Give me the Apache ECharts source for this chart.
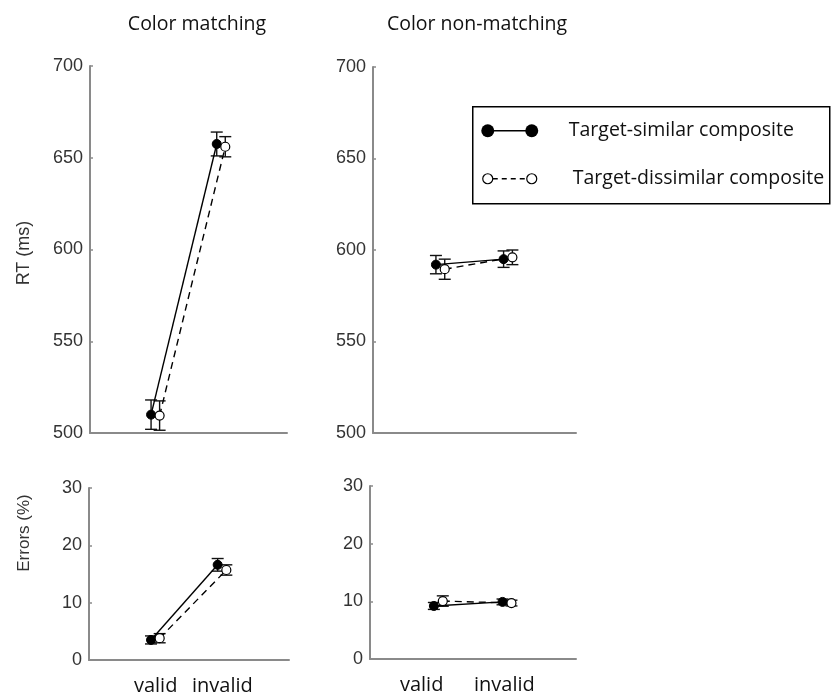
<!DOCTYPE html>
<html>
<head>
<meta charset="utf-8">
<script src="https://cdn.jsdelivr.net/npm/echarts@6/dist/echarts.min.js"></script>
<style>
  html, body { margin: 0; padding: 0; background: #fff; }
  #chart { width: 832px; height: 699px; }
</style>
</head>
<body>
<div id="chart"></div>
<script>
// Cue conditions on the x axis
const categories = ['valid', 'invalid'];
const panelTitles = ['Color matching', 'Color non-matching'];
const seriesNames = ['Target-similar composite', 'Target-dissimilar composite'];

// Reaction times (ms): means and standard errors
const rtMatchSimilar = [510, 657.5];
const rtMatchSimilarErr = [8, 6.5];
const rtMatchDissimilar = [509.5, 656];
const rtMatchDissimilarErr = [8, 5.5];
const rtNonSimilar = [592, 595];
const rtNonSimilarErr = [5, 4.5];
const rtNonDissimilar = [589.5, 596];
const rtNonDissimilarErr = [5.5, 4];

// Error rates (%): means and standard errors
const errMatchSimilar = [3.5, 16.6];
const errMatchSimilarErr = [0.7, 1.1];
const errMatchDissimilar = [3.8, 15.7];
const errMatchDissimilarErr = [0.8, 0.9];
const errNonSimilar = [9.2, 9.9];
const errNonSimilarErr = [0.6, 0.5];
const errNonDissimilar = [10.05, 9.7];
const errNonDissimilarErr = [0.9, 0.5];

// Axis tick values
const rtTicks = [500, 550, 600, 650, 700];
const errTicks = [0, 10, 20, 30];

const SIM_SHIFT = -0.07;
const DIS_SHIFT = 0.06;
const AXIS_GRAY = '#8a8a8a';
const TICK_FONT = 'Liberation Sans, Arial, sans-serif';
const TEXT_FONT = 'Open Sans, sans-serif';
const TEXT_COLOR = '#111';

const chart = echarts.init(document.getElementById('chart'));

const grids = [
  { left: 90, top: 66, width: 197, height: 367 },
  { left: 373, top: 67, width: 203, height: 366 },
  { left: 89, top: 488, width: 200, height: 172 },
  { left: 370, top: 486, width: 206, height: 173 }
];

function xAxisFor(gridIndex, showLabels, rich) {
  return {
    type: 'value', gridIndex, min: 0, max: 3, interval: 1,
    axisLine: { show: true, lineStyle: { color: AXIS_GRAY, width: 2 } },
    axisTick: { show: false },
    splitLine: { show: false },
    axisLabel: {
      show: showLabels,
      margin: 16,
      fontFamily: TEXT_FONT, fontSize: 20, color: TEXT_COLOR,
      formatter: v => {
        const name = categories[Math.round(v) - 1];
        if (!name || Math.abs(v - Math.round(v)) > 1e-6) return '';
        return rich ? '{' + (v === 1 ? 'a' : 'b') + '|' + name + '}' : name;
      },
      rich: rich || undefined
    }
  };
}

function yAxisFor(gridIndex, ticks) {
  return {
    type: 'value', gridIndex,
    min: ticks[0], max: ticks[ticks.length - 1], interval: ticks[1] - ticks[0],
    axisLine: { show: true, lineStyle: { color: AXIS_GRAY, width: 2 } },
    axisTick: { show: true, inside: true, length: 3, lineStyle: { color: AXIS_GRAY, width: 1.5 } },
    splitLine: { show: false },
    axisLabel: { fontFamily: TICK_FONT, fontSize: 18, color: '#333', margin: 7 }
  };
}

function points(values, shift) {
  return values.map((v, i) => [i + 1 + shift, v]);
}

function lineSeries(idx, values, shift, filled) {
  return {
    type: 'line', xAxisIndex: idx, yAxisIndex: idx,
    name: filled ? seriesNames[0] : seriesNames[1],
    data: points(values, shift),
    symbol: 'circle', symbolSize: 9,
    z: filled ? 3 : 4,
    clip: false,
    lineStyle: { color: '#000', width: 1.4, type: filled ? 'solid' : [7, 5] },
    itemStyle: filled
      ? { color: '#000', borderColor: '#000', borderWidth: 1 }
      : { color: '#fff', borderColor: '#000', borderWidth: 1.2 },
    animation: false
  };
}

function errorSeries(idx, values, errs, shift) {
  return {
    type: 'custom', xAxisIndex: idx, yAxisIndex: idx,
    data: values.map((v, i) => [i + 1 + shift, v - errs[i], v + errs[i]]),
    z: 2,
    renderItem: (params, api) => {
      const x = api.value(0);
      const lo = api.coord([x, api.value(1)]);
      const hi = api.coord([x, api.value(2)]);
      const half = 6;
      const style = { stroke: '#111', lineWidth: 1.4, fill: null };
      return {
        type: 'group',
        children: [
          { type: 'line', shape: { x1: lo[0], y1: lo[1], x2: hi[0], y2: hi[1] }, style },
          { type: 'line', shape: { x1: hi[0] - half, y1: hi[1], x2: hi[0] + half, y2: hi[1] }, style },
          { type: 'line', shape: { x1: lo[0] - half, y1: lo[1], x2: lo[0] + half, y2: lo[1] }, style }
        ]
      };
    },
    animation: false
  };
}

const panels = [
  [rtMatchSimilar, rtMatchSimilarErr, rtMatchDissimilar, rtMatchDissimilarErr],
  [rtNonSimilar, rtNonSimilarErr, rtNonDissimilar, rtNonDissimilarErr],
  [errMatchSimilar, errMatchSimilarErr, errMatchDissimilar, errMatchDissimilarErr],
  [errNonSimilar, errNonSimilarErr, errNonDissimilar, errNonDissimilarErr]
];

const series = [];
panels.forEach((p, idx) => {
  series.push(errorSeries(idx, p[0], p[1], SIM_SHIFT));
  series.push(errorSeries(idx, p[2], p[3], DIS_SHIFT));
  series.push(lineSeries(idx, p[0], SIM_SHIFT, true));
  series.push(lineSeries(idx, p[2], DIS_SHIFT, false));
});

// Hand-built key: marker, connecting line, marker, then the label
const legendX = 472, legendY = 106;
const legendGraphic = {
  type: 'group', left: legendX, top: legendY,
  children: [
    { type: 'rect', shape: { x: 0, y: 0, width: 357, height: 97 },
      style: { fill: '#fff', stroke: '#000', lineWidth: 1.5 } },
    { type: 'line', shape: { x1: 15, y1: 24, x2: 59, y2: 24 }, style: { stroke: '#000', lineWidth: 1.5 } },
    { type: 'circle', shape: { cx: 15, cy: 24, r: 6.5 }, style: { fill: '#000' } },
    { type: 'circle', shape: { cx: 59, cy: 24, r: 6.5 }, style: { fill: '#000' } },
    { type: 'text', x: 96, y: 24, style: { text: seriesNames[0], fontFamily: TEXT_FONT, fontSize: 19.5, fill: TEXT_COLOR, textVerticalAlign: 'middle' } },
    { type: 'line', shape: { x1: 20, y1: 72, x2: 54, y2: 72 }, style: { stroke: '#000', lineWidth: 1.3, lineDash: [5, 4] } },
    { type: 'circle', shape: { cx: 15, cy: 72, r: 5 }, style: { fill: '#fff', stroke: '#000', lineWidth: 1.2 } },
    { type: 'circle', shape: { cx: 59, cy: 72, r: 5 }, style: { fill: '#fff', stroke: '#000', lineWidth: 1.2 } },
    { type: 'text', x: 100, y: 72, style: { text: seriesNames[1], fontFamily: TEXT_FONT, fontSize: 19.5, fill: TEXT_COLOR, textVerticalAlign: 'middle' } }
  ]
};

const option = {
  backgroundColor: '#fff',
  animation: false,
  grid: grids.map(g => Object.assign({ containLabel: false }, g)),
  xAxis: [
    xAxisFor(0, false),
    xAxisFor(1, false),
    xAxisFor(2, true),
    xAxisFor(3, true, { a: { padding: [0, 34, 0, 0] }, b: { padding: [0, 6, 0, 0] } })
  ],
  yAxis: [
    yAxisFor(0, rtTicks),
    yAxisFor(1, rtTicks),
    yAxisFor(2, errTicks),
    yAxisFor(3, errTicks)
  ],
  series,
  graphic: [
    { type: 'text', x: 197, y: 24, style: { text: panelTitles[0], fontFamily: TEXT_FONT, fontSize: 19.5, fill: TEXT_COLOR, textAlign: 'center', textVerticalAlign: 'middle' } },
    { type: 'text', x: 477, y: 24, style: { text: panelTitles[1], fontFamily: TEXT_FONT, fontSize: 19.5, fill: TEXT_COLOR, textAlign: 'center', textVerticalAlign: 'middle' } },
    { type: 'text', x: 24, y: 253, rotation: Math.PI / 2, style: { text: 'RT (ms)', fontFamily: TICK_FONT, fontSize: 18, fill: '#333', textAlign: 'center', textVerticalAlign: 'middle' } },
    { type: 'text', x: 24, y: 533, rotation: Math.PI / 2, style: { text: 'Errors (%)', fontFamily: TICK_FONT, fontSize: 17, fill: '#333', textAlign: 'center', textVerticalAlign: 'middle' } },
    legendGraphic
  ]
};

chart.setOption(option);
</script>
</body>
</html>
